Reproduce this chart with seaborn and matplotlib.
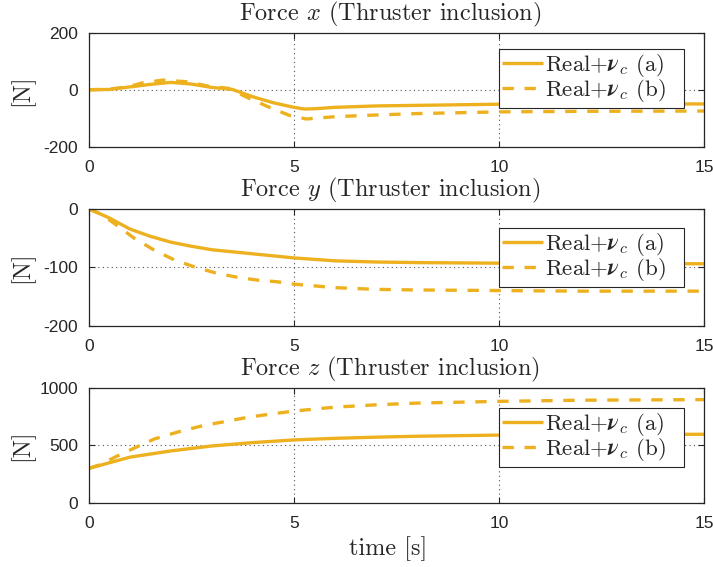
import numpy as np
import pandas as pd
import matplotlib
matplotlib.use("Agg")
import matplotlib.pyplot as plt
import seaborn as sns

# ---------------- data ----------------
t_x_a = [0, 0.5, 1, 1.5, 2, 2.5, 3, 3.5, 4, 4.5, 5, 5.25, 5.5, 6, 7, 8, 10, 12, 15]
f_x_a = [0, 1, 10, 19, 26, 20, 8, 1, -25, -46, -62, -68, -67, -62, -57, -55, -51, -50, -50]
t_x_b = [0, 0.5, 1, 1.3, 1.8, 2.4, 2.9, 3.4, 3.9, 4.4, 4.9, 5.3, 6, 7, 8, 10, 12, 15]
f_x_b = [0, 2, 12, 24, 34, 28, 13, 5, -30, -62, -91, -103, -95, -89, -84, -78, -76, -75]

t_y_a = [0, 0.5, 1, 1.5, 2, 2.5, 3, 4, 5, 6, 7, 8, 10, 12, 15]
f_y_a = [0, -15.5, -34.5, -47, -57, -64, -70, -77, -84, -89, -91, -92, -93, -93.5, -94]
t_y_b = [0, 0.3, 0.6, 1.1, 1.6, 2.1, 2.6, 3.1, 3.6, 4.1, 4.6, 5, 6, 7, 8, 10, 12, 15]
f_y_b = [0, -9, -24, -50, -71, -88, -100, -110, -117, -122, -125, -129, -135, -138, -139, -140, -141, -141]

t_z_a = [0, 1, 2, 3, 4, 5, 6, 7, 8, 10, 12, 15]
f_z_a = [300, 397, 451, 494, 523, 546, 560, 570, 578, 588, 592, 595]
t_z_b = [0, 0.3, 0.65, 1.15, 1.6, 2.2, 2.8, 3.4, 3.9, 4.5, 5, 6, 7, 8, 10, 12, 15]
f_z_b = [300, 335, 400, 483, 555, 618, 672, 710, 744, 773, 796, 830, 850, 865, 880, 890, 895]

titles = [r"Force $x$ (Thruster inclusion)",
          r"Force $y$ (Thruster inclusion)",
          r"Force $z$ (Thruster inclusion)"]
legend_labels = [r"Real+$\boldsymbol{\nu}_c$ (a)",
                 r"Real+$\boldsymbol{\nu}_c$ (b)"]
y_limits = [(-200, 200), (-200, 0), (0, 1000)]
y_ticks = [[-200, 0, 200], [-200, -100, 0], [0, 500, 1000]]
x_ticks = [0, 5, 10, 15]
ylabel = "[N]"
xlabel = "time [s]"

# ---------------- style ----------------
sns.set_style("ticks")
plt.rcParams["font.family"] = ["Liberation Sans", "DejaVu Sans"]
plt.rcParams["mathtext.fontset"] = "cm"
plt.rcParams["axes.unicode_minus"] = False

COLOR = "#EDB120"
LW = 2.4
AXC = "#262626"
SERIF = "cmr10"
TFS = 17.5
LFS = 16.5

fig = plt.figure(figsize=(7.13, 5.67), dpi=100)
W, H = 713.0, 567.0
boxes = [(33, 146.5), (209, 325.5), (387.5, 503)]
leg_tops = [(146.5 - 49) / 113.5, (325.5 - 228) / 116.5, (503 - 408) / 115.5]
leg_x0 = (499 - 89) / 615
leg_w = (684 - 499) / 615
series = [(t_x_a, f_x_a, t_x_b, f_x_b),
          (t_y_a, f_y_a, t_y_b, f_y_b),
          (t_z_a, f_z_a, t_z_b, f_z_b)]

axes = []
for i, (top, bot) in enumerate(boxes):
    ax = fig.add_axes([89 / W, 1 - bot / H, 615 / W, (bot - top) / H])
    axes.append(ax)
    ta, fa, tb, fb = series[i]
    da = pd.DataFrame({"t": ta, "F": fa})
    db = pd.DataFrame({"t": tb, "F": fb})
    sns.lineplot(data=da, x="t", y="F", ax=ax, color=COLOR, lw=LW,
                 label=legend_labels[0], solid_capstyle="butt")
    sns.lineplot(data=db, x="t", y="F", ax=ax, color=COLOR, lw=LW,
                 label=legend_labels[1], dashes=False, linestyle=(0, (3.4, 3.2)),
                 dash_capstyle="butt")
    ax.set_xlim(0, 15)
    ax.set_ylim(*y_limits[i])
    ax.set_xticks(x_ticks)
    ax.set_yticks(y_ticks[i])
    ax.grid(True, linestyle=(0, (1, 3)), color=AXC, linewidth=0.8, alpha=0.8)
    for s in ax.spines.values():
        s.set_color(AXC)
        s.set_linewidth(0.9)
        s.set_visible(True)
    ax.tick_params(direction="in", length=4, width=0.8, colors=AXC,
                   labelsize=12.5, top=True, right=True, labelcolor="#262626")
    ax.tick_params(axis="y", pad=8)
    ax.tick_params(axis="x", pad=9.5)
    ax.set_title(titles[i], fontfamily=SERIF, fontsize=TFS, pad=9, x=0.489)
    ax.set_ylabel(ylabel, fontfamily=SERIF, fontsize=TFS)
    ax.yaxis.set_label_coords(-0.089, 0.5)
    ax.set_xlabel("")
    leg = ax.legend(loc="upper left", bbox_to_anchor=(leg_x0, leg_tops[i], leg_w, 0),
                    mode="expand",
                    prop={"family": SERIF, "size": LFS}, frameon=True,
                    fancybox=False, framealpha=1, edgecolor=AXC,
                    handlelength=1.75, handletextpad=0.1, borderpad=0.15,
                    labelspacing=-0.1, borderaxespad=0)
    leg.get_frame().set_linewidth(0.8)

axes[2].set_xlabel(xlabel, fontfamily=SERIF, fontsize=TFS)
axes[2].xaxis.set_label_coords(0.4857, -0.29)

fig.savefig("out.png", dpi=100)
